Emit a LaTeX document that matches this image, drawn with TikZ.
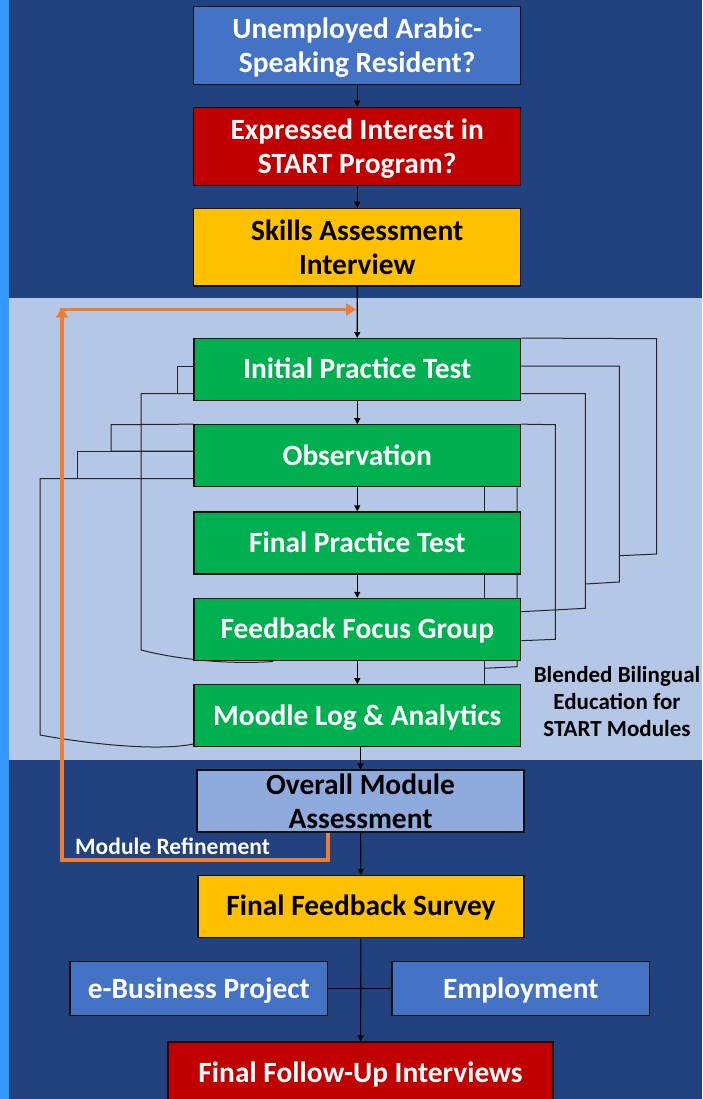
\documentclass[tikz,border=0pt]{standalone}
\usepackage{fontspec}
\setmainfont{Carlito}
\usetikzlibrary{arrows.meta}
\definecolor{bgdark}{HTML}{21417F}
\definecolor{bgband}{HTML}{B4C7E7}
\definecolor{strip}{HTML}{3399FF}
\definecolor{midblue}{HTML}{4472C4}
\definecolor{darkred}{HTML}{C00000}
\definecolor{gold}{HTML}{FFC000}
\definecolor{green}{HTML}{00B050}
\definecolor{paleblue}{HTML}{8FAADC}
\definecolor{orange}{HTML}{ED7D31}
\definecolor{edge}{HTML}{111111}
\tikzset{
  box/.style={draw=edge, line width=1.3pt, align=center, inner sep=0pt,
    font=\fontsize{29.4}{34}\selectfont\bfseries},
  oneline/.style={text height=21.2pt, text depth=2.8pt},
  twoline/.style={text depth=0pt},
  gbox/.style={box, oneline, fill=green, text=white, minimum width=326.7pt, minimum height=62pt},
  flow/.style={draw=black, line width=1.1pt, -{Triangle[width=6pt,length=6pt]}},
  loop/.style={draw=black!85, line width=1pt},
  refine/.style={draw=orange, line width=3.6pt},
  orangehead/.style={-{Triangle[width=12pt,length=10pt]}},
}
\begin{document}
\begin{tikzpicture}[x=1pt,y=-1pt]
\useasboundingbox (0,0) rectangle (702,1099);
% backgrounds
\fill[bgdark] (0,0) rectangle (702,1099);
\fill[strip] (0,0) rectangle (9,1099);
\fill[bgband] (9,298) rectangle (702,760);

% top boxes
\node[box, twoline, fill=midblue, text=white, minimum width=326.8pt, minimum height=77.6pt] (b1) at (357.2,45.5) {Unemployed Arabic-\\Speaking Resident?};
\node[box, twoline, fill=darkred, text=white, minimum width=326.8pt, minimum height=78pt] (b2) at (357.2,146.3) {Expressed Interest in\\START Program?};
\node[box, twoline, fill=gold, text=black, minimum width=326.8pt, minimum height=77.7pt] (b3) at (357.2,247.2) {Skills Assessment\\Interview};

% green boxes positions (coordinates only, nodes drawn after loops)
\coordinate (ipt-c) at (357.3,369.7);
\coordinate (obs-c) at (357.3,455.8);
\coordinate (fpt-c) at (357.3,543.0);
\coordinate (ffg-c) at (357.3,629.5);
\coordinate (mla-c) at (357.3,715.8);

% invisible placeholders to name the green boxes for loops
\node[gbox, draw=none, fill=none, text opacity=0] (ipt) at (ipt-c) {};
\node[gbox, draw=none, fill=none, text opacity=0] (obs) at (obs-c) {};
\node[gbox, draw=none, fill=none, text opacity=0] (fpt) at (fpt-c) {};
\node[gbox, draw=none, fill=none, text opacity=0] (ffg) at (ffg-c) {};
\node[gbox, draw=none, fill=none, text opacity=0] (mla) at (mla-c) {};

% right loops
\draw[loop] (ipt.north east) -- (656.7,338.7) -- (656.7,554) -- (619.3,555.7);
\draw[loop] (ipt.east |- 0,366) -- (619.3,366) -- (619.3,582) -- (585.3,584);
\draw[loop] (ipt.east |- 0,393.7) -- (585.3,393.7) -- (585.3,608.3) -- (ffg.east |- 0,611.7);
\draw[loop] (obs.north east) -- (555.3,424.7) -- (555.3,639.3) -- (ffg.east |- 0,640.7);
\draw[loop] (obs.south -| 517,0) -- (517,666.7) -- (484,668.3);
\draw[loop] (obs.south -| 484,0) -- (mla.north -| 484,0);

% left loops
\draw[loop] (ipt.west |- 0,366) -- (177,366) -- (177,393.7);
\draw[loop] (ipt.west |- 0,393.7) -- (141,393.7) -- (141,650) .. controls (180,660) and (230,664.5) .. (273,661.5);
\draw[loop] (obs.north west) -- (111,424.7) -- (111,451) -- (obs.west |- 0,451);
\draw[loop] (obs.west |- 0,451) -- (77,451) -- (77,478.7);
\draw[loop] (obs.west |- 0,478.7) -- (40,478.7) -- (40,735) .. controls (95,745) and (160,751) .. (mla.west |- 0,744);

% green boxes
\node[gbox] (ipt2) at (ipt-c) {Initial Practice Test};
\node[gbox] (obs2) at (obs-c) {Observation};
\node[gbox] (fpt2) at (fpt-c) {Final Practice Test};
\node[gbox] (ffg2) at (ffg-c) {Feedback Focus Group};
\node[gbox] (mla2) at (mla-c) {Moodle Log \& Analytics};

% lower boxes
\node[box, fill=paleblue, text=black, minimum width=327pt, minimum height=62pt, text depth=-3pt] (oma) at (360.5,801) {Overall Module\\Assessment};
\node[box, oneline, fill=gold, text=black, minimum width=326pt, minimum height=62pt] (ffs) at (361,906.7) {Final Feedback Survey};
\node[box, oneline, fill=midblue, text=white, minimum width=257.7pt, minimum height=54pt, text height=20.4pt, text depth=1.6pt] (ebp) at (198.9,988.7) {e-Business Project};
\node[box, oneline, fill=midblue, text=white, minimum width=257.5pt, minimum height=54pt, text height=20.4pt, text depth=1.6pt] (emp) at (520.8,988.7) {Employment};
\node[box, oneline, fill=darkred, text=white, minimum width=385pt, minimum height=62pt] (ffu) at (360.5,1073) {Final Follow-Up Interviews};

% flow arrows
\draw[flow] (b1) -- (b2);
\draw[flow] (b2) -- (b3);
\draw[flow] (b3) -- (ipt2);
\draw[flow] (ipt2) -- (obs2);
\draw[flow] (obs2) -- (fpt2);
\draw[flow] (fpt2) -- (ffg2);
\draw[flow] (ffg2) -- (mla2);
\draw[flow] (mla2.south -| oma.north) -- (oma.north);
\draw[flow] (oma) -- (ffs);
\draw[flow] (ffs) -- (ffu);
\draw[draw=black, line width=1.1pt] (ebp.east) -- (emp.west);

% orange refinement loop
\coordinate (rc1) at (62,860);
\coordinate (rc2) at (62,309.5);
\coordinate (rc3) at (356,309.5);
\draw[refine] (oma.south -| 328,0) -- (328,860) -- (rc1) -- (rc2);
\draw[refine, orangehead] (rc1) -- (62,307.7);
\draw[refine, orangehead] (60.2,309.5) -- (rc3);

% labels
\node[text=white, font=\fontsize{23.5}{27}\selectfont\bfseries, anchor=west, inner sep=0pt] (lref) at (75,846.7) {Module Refinement};
\node[text=black, align=center, font=\fontsize{23}{27}\selectfont\bfseries, inner sep=0pt] (lbl) at (617,702) {Blended Bilingual\\Education for\\START Modules};
\end{tikzpicture}
\end{document}
